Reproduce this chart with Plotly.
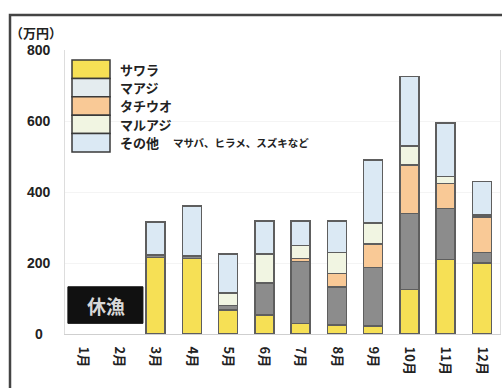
import plotly.graph_objects as go

# Monthly landed value by species (unit: 10,000 yen)
months = ["1月", "2月", "3月", "4月", "5月", "6月", "7月", "8月", "9月", "10月", "11月", "12月"]
sawara = [None, None, 215, 212, 68, 53, 30, 25, 22, 126, 210, 200]
maaji = [None, None, 7, 8, 12, 90, 174, 108, 165, 214, 144, 30]
tachiuo = [None, None, None, None, None, None, 9, 37, 66, 136, 70, 100]
maruaji = [None, None, None, None, 35, 82, 37, 60, 60, 54, 20, 5]
sonota = [None, None, 93, 140, 110, 94, 69, 89, 177, 195, 151, 95]

y_ticks = [0, 200, 400, 600, 800]

series = [
    ("サワラ", sawara, "#f6e055", "#f6e055"),
    ("マアジ", maaji, "#8c8c8c", "#e4ecef"),
    ("タチウオ", tachiuo, "#f9c996", "#f9c996"),
    ("マルアジ", maruaji, "#f1f5e2", "#f1f5e2"),
    ("その他", sonota, "#dbe9f4", "#dbe9f4"),
]

W, H = 502, 388
ML, MR, MT, MB = 65, 2, 50, 54
PW, PH = W - ML - MR, H - MT - MB


def px_x(px):
    return (px - ML) / PW


def px_y(py):
    return (H - MB - py) / PH


JP = "Noto Sans CJK JP"
NUM = "Liberation Sans"

fig = go.Figure()
for name, vals, color, _ in series:
    fig.add_trace(go.Bar(
        x=months, y=vals, name=name,
        marker=dict(color=color, line=dict(color="#5e5e5e", width=1.5)),
        showlegend=False,
    ))

shapes = []
annotations = []

# outer frame
shapes.append(dict(type="rect", xref="paper", yref="paper",
                   x0=px_x(10), x1=px_x(W + 20), y0=px_y(H + 20), y1=px_y(15),
                   line=dict(color="#444444", width=2.5), fillcolor="rgba(0,0,0,0)",
                   layer="above"))

# legend block
top, step = 60, 18.4
for i, (name, _, _, swatch) in enumerate(series):
    y0 = top + i * step
    shapes.append(dict(type="rect", xref="paper", yref="paper",
                       x0=px_x(72), x1=px_x(110), y0=px_y(y0 + step), y1=px_y(y0),
                       fillcolor=swatch, line=dict(color="#3a3a3a", width=1.5)))
    annotations.append(dict(xref="paper", yref="paper", x=px_x(118), y=px_y(y0 + step / 2),
                            text=f"<b>{name}</b>", showarrow=False, xanchor="left",
                            yanchor="middle", font=dict(family=JP, size=13, color="#222")))
annotations.append(dict(xref="paper", yref="paper", x=px_x(171), y=px_y(top + 4.5 * step),
                        text="<b>マサバ、ヒラメ、スズキなど</b>", showarrow=False,
                        xanchor="left", yanchor="middle",
                        font=dict(family=JP, size=10.5, color="#222")))

# closed-season marker
shapes.append(dict(type="rect", xref="x", yref="y", x0=-0.42, x1=1.65, y0=30, y1=133,
                   fillcolor="#111111", line=dict(color="#111111", width=1)))
annotations.append(dict(xref="x", yref="y", x=0.62, y=81, text="<b>休漁</b>", showarrow=False,
                        font=dict(family=JP, size=19, color="#d8d8d8")))

# y tick labels (centred) and unit
for v in y_ticks:
    annotations.append(dict(xref="paper", yref="y", x=px_x(39), y=v, text=f"<b>{v}</b>",
                            showarrow=False, xanchor="center", yanchor="middle",
                            font=dict(family=NUM, size=14, color="#222")))
annotations.append(dict(xref="paper", yref="paper", x=px_x(8), y=px_y(32),
                        text="<b>（万円）</b>", showarrow=False, xanchor="left",
                        yanchor="middle", font=dict(family=JP, size=13, color="#222")))

fig.update_layout(
    width=W, height=H,
    margin=dict(l=ML, r=MR, t=MT, b=MB),
    barmode="stack", bargap=0.47,
    paper_bgcolor="white", plot_bgcolor="white",
    shapes=shapes, annotations=annotations,
    xaxis=dict(type="category", range=[-0.5, 11.5], tickangle=90,
               tickfont=dict(family=JP, size=13, color="#222", weight="bold"),
               showline=True, linecolor="#cfcfcf", linewidth=1,
               showgrid=False, ticks="", ticklabelstandoff=9, fixedrange=True),
    yaxis=dict(range=[0, 800], tickvals=y_ticks, showticklabels=False,
               showgrid=True, gridcolor="#f4f4f4", zeroline=False,
               showline=True, linecolor="#dddddd", mirror=True, fixedrange=True),
)

fig.write_html("out.html")
